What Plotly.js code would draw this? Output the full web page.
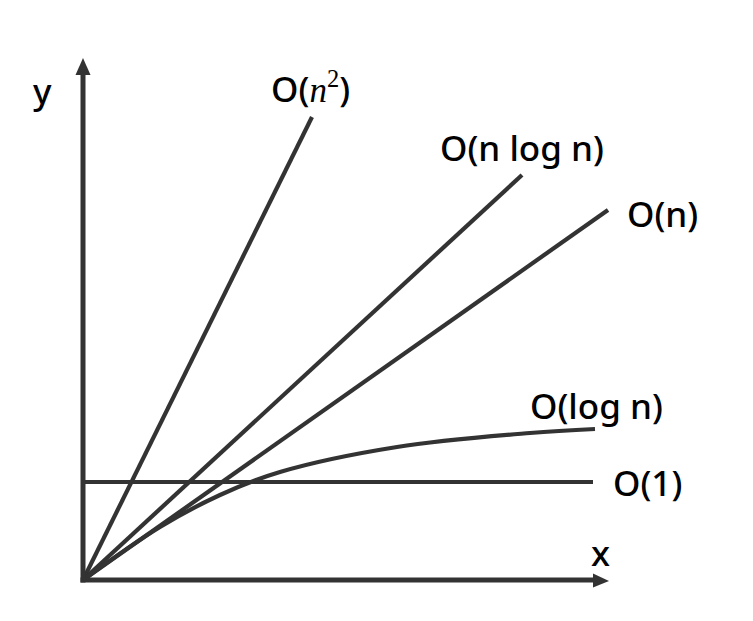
<!DOCTYPE html>
<html>
<head>
<meta charset="utf-8">
<script src="https://cdn.plot.ly/plotly-3.0.1.min.js"></script>
<style>html,body{margin:0;padding:0;background:#fff;}#chart{width:753px;height:621px;}</style>
</head>
<body>
<div id="chart"></div>
<script>
// Data (x = distance right of origin, y = height above origin, px units)
const seriesNames = ["O(n²)", "O(n log n)", "O(n)", "O(log n)", "O(1)"];
const n2X = [0, 229];
const n2Y = [0, 463];
const nlognX = [0, 439];
const nlognY = [0, 405];
const nX = [0, 525];
const nY = [0, 370];
const lognX = [0, 77, 137, 197, 314, 447, 512];
const lognY = [0, 53, 85, 108, 133, 147, 151];
const constX = [0, 510];
const constY = [98, 98];

const labelTexts = [
  'O(<span style="font-family:Liberation Serif"><i>n</i><sup>2</sup></span>)',
  'O(n log n)', 'O(n)', 'O(log n)', 'O(1)'
];
const labelX = [227, 439, 579, 513, 564];
const labelY = [492, 433, 367, 175, 98];

const lineColor = '#333333';
const lw = 4.2;
function tr(x, y, shape) {
  return {x: x, y: y, mode: 'lines', type: 'scatter', hoverinfo: 'skip',
    line: {color: lineColor, width: lw, shape: shape || 'linear', smoothing: 1}};
}
const data = [
  tr(n2X, n2Y), tr(nlognX, nlognY), tr(nX, nY), tr(lognX, lognY, 'spline'), tr(constX, constY)
];

const font = {family: 'Noto Sans, Open Sans, sans-serif', size: 35, color: '#000', weight: 500};
const annotations = labelTexts.map((t, i) => ({
  x: labelX[i], y: labelY[i], xref: 'x', yref: 'y', text: t, showarrow: false,
  font: font, xanchor: 'center', yanchor: 'middle'
}));
annotations.push({x: -41, y: 490, xref: 'x', yref: 'y', text: 'y', showarrow: false, font: font, xanchor: 'center', yanchor: 'middle'});
annotations.push({x: 517, y: 28, xref: 'x', yref: 'y', text: 'x', showarrow: false, font: font, xanchor: 'center', yanchor: 'middle'});

const axisStyle = {color: lineColor, width: 5};
const shapes = [
  {type: 'line', xref: 'x', yref: 'y', x0: -2.5, y0: 0, x1: 512, y1: 0, line: axisStyle},
  {type: 'line', xref: 'x', yref: 'y', x0: 0, y0: -2.5, x1: 0, y1: 508, line: axisStyle},
  {type: 'path', xref: 'x', yref: 'y', path: 'M 510 -7.5 L 526 -1 L 510 6.5 Z', fillcolor: lineColor, line: {width: 0}},
  {type: 'path', xref: 'x', yref: 'y', path: 'M -7.5 505 L 0 522 L 7.5 505 Z', fillcolor: lineColor, line: {width: 0}}
];

const layout = {
  width: 753, height: 621,
  margin: {l: 0, r: 0, t: 0, b: 0},
  paper_bgcolor: '#fff', plot_bgcolor: '#fff',
  showlegend: false,
  xaxis: {range: [-83, 670], visible: false, fixedrange: true},
  yaxis: {range: [-41, 580], visible: false, fixedrange: true},
  annotations: annotations,
  shapes: shapes
};
Plotly.newPlot('chart', data, layout, {displayModeBar: false, staticPlot: true});
</script>
</body>
</html>
